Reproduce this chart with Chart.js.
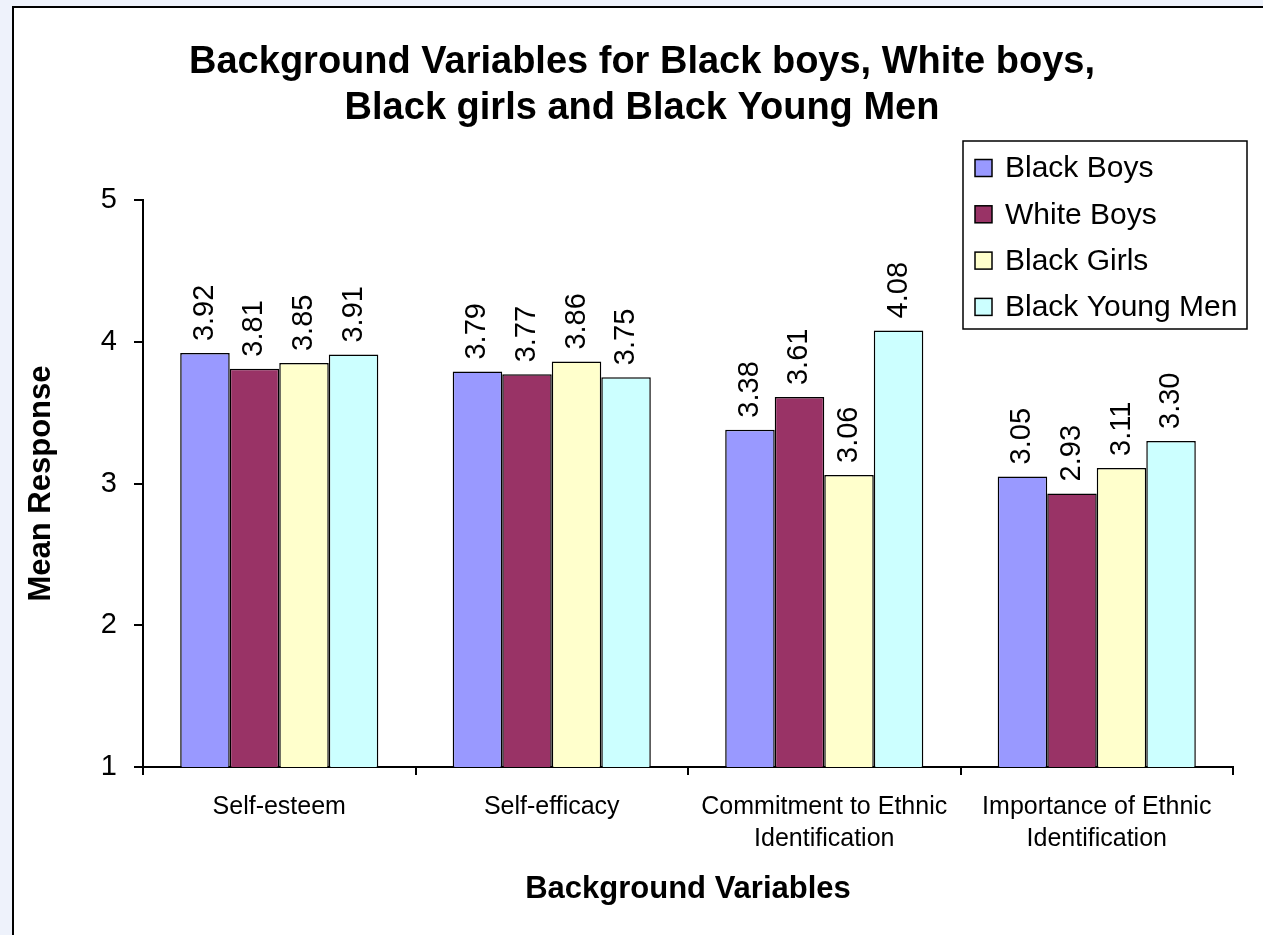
<!DOCTYPE html>
<html>
<head>
<meta charset="utf-8">
<script src="https://cdn.jsdelivr.net/npm/chart.js@4.4.1/dist/chart.umd.min.js"></script>
<style>
  html, body { margin: 0; padding: 0; overflow: hidden; width: 1263px; height: 935px; background: #eef2fb; }
  #frame { position: absolute; left: 12px; top: 6px; width: 1400px; height: 1100px; background: #fff;
           border-left: 2px solid #000; border-top: 2px solid #000; }
  #wrap { position: absolute; left: 0; top: 0; width: 1263px; height: 935px; }
</style>
</head>
<body>
<div id="frame"></div>
<div id="wrap"><canvas id="chart" width="1263" height="935"></canvas></div>
<script>
// Survey means per background variable
const categories = [
  ['Self-esteem'],
  ['Self-efficacy'],
  ['Commitment to Ethnic', 'Identification'],
  ['Importance of Ethnic', 'Identification']
];
const blackBoys     = [3.92, 3.79, 3.38, 3.05];
const whiteBoys     = [3.81, 3.77, 3.61, 2.93];
const blackGirls    = [3.85, 3.86, 3.06, 3.11];
const blackYoungMen = [3.91, 3.75, 4.08, 3.30];
const yTicks = [1, 2, 3, 4, 5];
const titleLines = ['Background Variables for Black boys, White boys,', 'Black girls and Black Young Men'];

const FONT = '"Liberation Sans", Arial, Helvetica, sans-serif';

// Two-line heading centred over the frame
const heading = {
  id: 'heading',
  afterDraw(chart) {
    const ctx = chart.ctx;
    ctx.save();
    ctx.font = 'bold 38px ' + FONT;
    ctx.fillStyle = '#000';
    ctx.textAlign = 'center';
    ctx.textBaseline = 'middle';
    titleLines.forEach((t, i) => ctx.fillText(t, 642, 63 + i * 46));
    ctx.restore();
  }
};

// Rotated value labels above each bar
const valueLabels = {
  id: 'valueLabels',
  afterDatasetsDraw(chart) {
    const ctx = chart.ctx;
    ctx.save();
    ctx.font = '29px ' + FONT;
    ctx.fillStyle = '#000';
    ctx.textAlign = 'left';
    ctx.textBaseline = 'middle';
    chart.data.datasets.forEach((ds, i) => {
      chart.getDatasetMeta(i).data.forEach((bar, j) => {
        ctx.save();
        ctx.translate(bar.x, bar.y - 12);
        ctx.rotate(-Math.PI / 2);
        ctx.fillText(ds.data[j].toFixed(2), 0, 0);
        ctx.restore();
      });
    });
    ctx.restore();
  }
};

// Boxed legend in the upper right corner
const boxLegend = {
  id: 'boxLegend',
  afterDraw(chart) {
    const ctx = chart.ctx;
    const x0 = 963, y0 = 141, w = 284, h = 188;
    ctx.save();
    ctx.fillStyle = '#fff';
    ctx.fillRect(x0, y0, w, h);
    ctx.lineWidth = 1.5;
    ctx.strokeStyle = '#000';
    ctx.strokeRect(x0, y0, w, h);
    ctx.font = '30px ' + FONT;
    ctx.textAlign = 'left';
    ctx.textBaseline = 'middle';
    chart.data.datasets.forEach((ds, i) => {
      const cy = 168 + i * 46.3;
      ctx.fillStyle = ds.backgroundColor;
      ctx.fillRect(975, cy - 8.5, 17, 17);
      ctx.strokeRect(975, cy - 8.5, 17, 17);
      ctx.fillStyle = '#000';
      ctx.fillText(ds.label, 1005, cy + 1);
    });
    ctx.restore();
  }
};

const barStyle = { borderColor: '#000', borderWidth: 1.5, borderSkipped: false,
                   categoryPercentage: 0.727, barPercentage: 1.0 };

new Chart(document.getElementById('chart'), {
  type: 'bar',
  data: {
    labels: categories,
    datasets: [
      { label: 'Black Boys',      data: blackBoys,     backgroundColor: '#9999ff', ...barStyle },
      { label: 'White Boys',      data: whiteBoys,     backgroundColor: '#993366', ...barStyle },
      { label: 'Black Girls',     data: blackGirls,    backgroundColor: '#ffffcc', ...barStyle },
      { label: 'Black Young Men', data: blackYoungMen, backgroundColor: '#ccffff', ...barStyle }
    ]
  },
  options: {
    responsive: false,
    animation: false,
    devicePixelRatio: 1,
    layout: { padding: { left: 0, right: 30, top: 200, bottom: 0 } },
    plugins: {
      legend: { display: false },
      tooltip: { enabled: false },
      title: { display: false }
    },
    scales: {
      x: {
        grid: { display: true, drawOnChartArea: false, drawTicks: true, tickLength: 8,
                color: '#000', lineWidth: 2, offset: true },
        border: { display: true, color: '#000', width: 2 },
        ticks: { color: '#000', font: { family: FONT, size: 25, lineHeight: 1.28 },
                 padding: 16, maxRotation: 0, autoSkip: false },
        title: { display: true, text: 'Background Variables', color: '#000',
                 font: { family: FONT, size: 31, weight: 'bold' }, padding: { top: 0, bottom: 27 } },
        afterFit(s) { s.height = 168; }
      },
      y: {
        min: 1, max: 5,
        afterBuildTicks(s) { s.ticks = yTicks.map(v => ({ value: v })); },
        grid: { display: true, drawOnChartArea: false, drawTicks: true, tickLength: 9,
                color: '#000', lineWidth: 2 },
        border: { display: true, color: '#000', width: 2 },
        ticks: { color: '#000', font: { family: FONT, size: 29 }, padding: 17 },
        title: { display: true, text: 'Mean Response', color: '#000',
                 font: { family: FONT, size: 31, weight: 'bold' }, padding: { top: 23, bottom: 0 } },
        afterFit(s) { s.width = 143; }
      }
    }
  },
  plugins: [valueLabels, boxLegend, heading]
});
</script>
</body>
</html>
